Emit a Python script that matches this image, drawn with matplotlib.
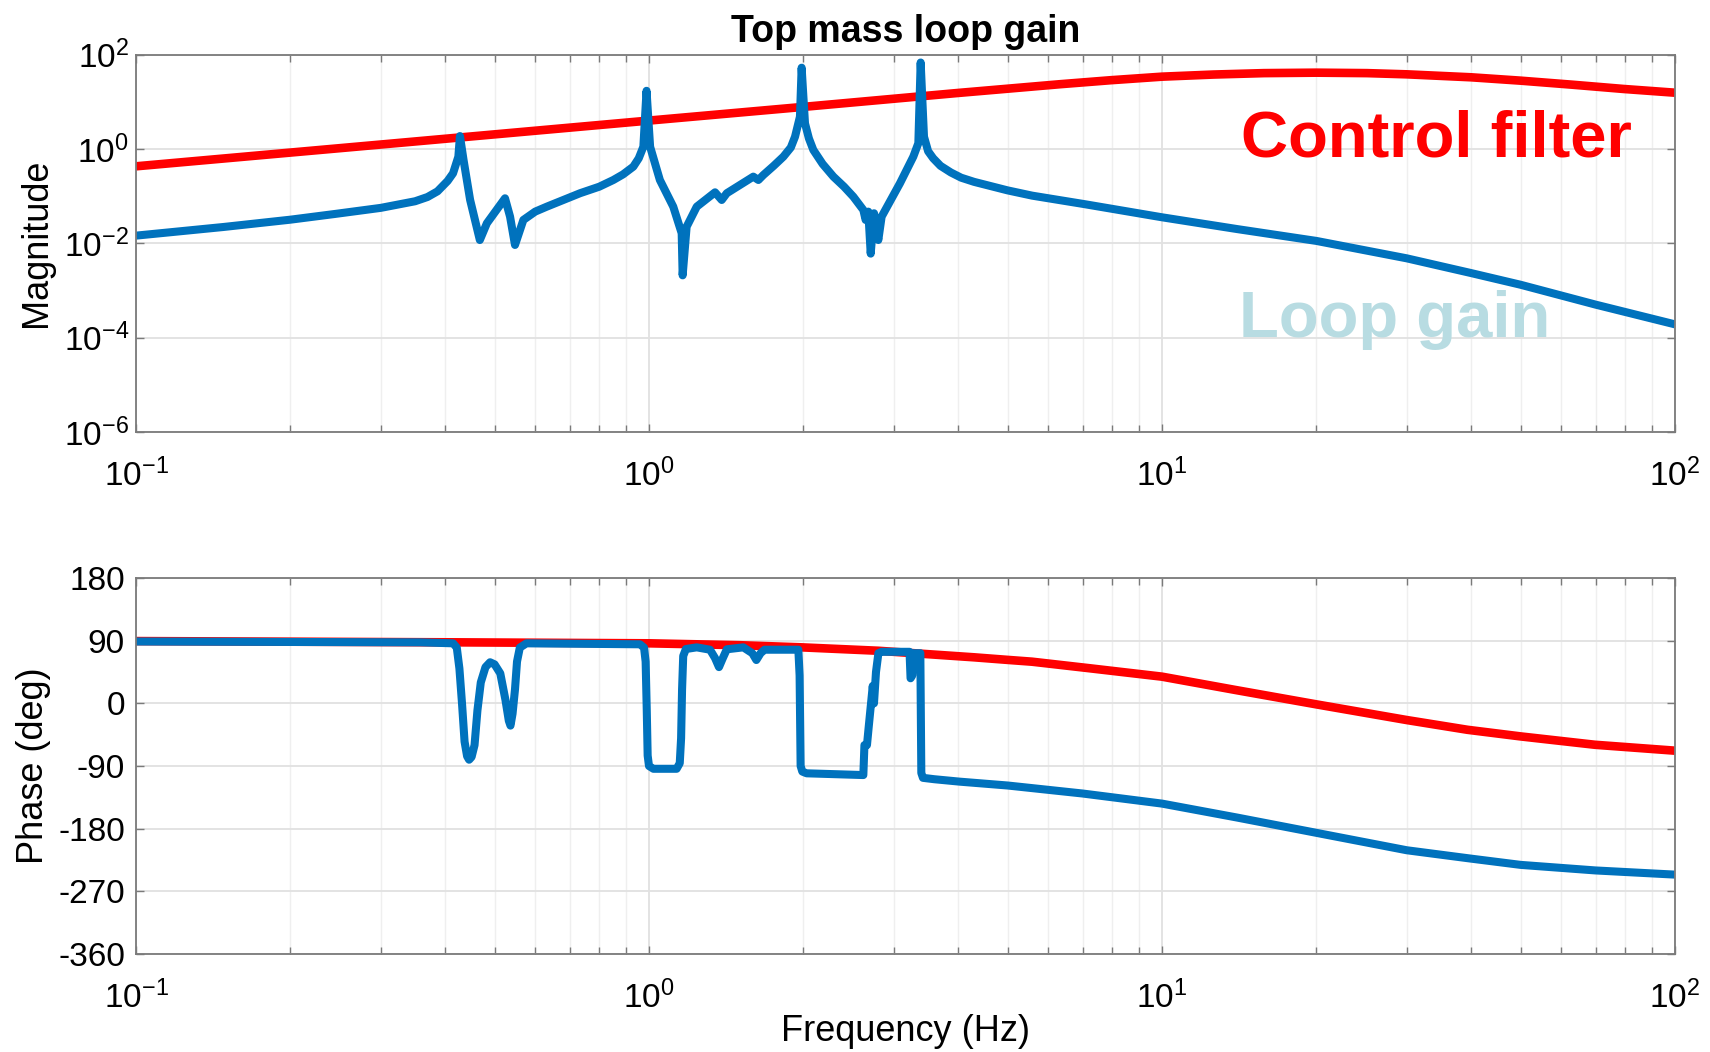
import matplotlib
matplotlib.use('Agg')
import matplotlib.pyplot as plt
from matplotlib.ticker import FixedLocator, LogLocator, NullLocator, NullFormatter

# ---------------- data ----------------
filter_mag_freq = [0.1, 0.316, 1.0, 2.0, 4.0, 6.31, 7.94, 10.0, 12.6, 15.8, 20.0,
                   25.1, 30.0, 40.0, 50.0, 63.1, 79.4, 100.0]
filter_mag = [0.427, 1.30, 3.98, 7.76, 15.3, 23.4, 28.5, 33.9, 37.6, 40.3, 41.2,
              40.3, 38.0, 32.9, 27.9, 22.9, 18.6, 15.5]

filter_phase_freq = [0.1, 0.42, 1.0, 1.5, 1.97, 2.8, 3.31, 4.3, 5.0, 5.58, 7.24, 10.0,
                     13.9, 20.0, 30.0, 39.4, 50.0, 69.8, 100.0]
filter_phase = [89.4, 87.6, 86.2, 83.5, 80.5, 75.5, 71.8, 66.1, 62.4, 59.8, 50.3, 38.3,
                19.2, -1.5, -24.0, -38.0, -47.5, -59.5, -68.0]

loop_mag_freq = [0.1, 0.148, 0.2, 0.244, 0.3, 0.35, 0.37, 0.387, 0.405, 0.415, 0.425,
                 0.428, 0.435, 0.448, 0.468, 0.483, 0.524, 0.536, 0.548, 0.569, 0.60,
                 0.632, 0.734, 0.80, 0.852, 0.89, 0.932, 0.955, 0.975, 0.989, 1.005,
                 1.05, 1.115, 1.158, 1.163, 1.184, 1.239, 1.345, 1.386, 1.418, 1.597,
                 1.634, 1.671, 1.75, 1.828, 1.89, 1.926, 1.969, 1.984, 2.014, 2.05,
                 2.091, 2.18, 2.288, 2.40, 2.502, 2.617, 2.644, 2.676, 2.705, 2.746,
                 2.799, 2.841, 3.085, 3.275, 3.35, 3.385, 3.436, 3.50, 3.581, 3.70,
                 3.877, 4.06, 4.302, 5.0, 5.585, 7.05, 10.0, 14.0, 20.0, 30.0,
                 40.0, 50.0, 70.0, 100.0]
loop_mag = [0.0145, 0.0221, 0.0316, 0.0417, 0.0562, 0.0776, 0.0955, 0.126, 0.209, 0.304, 0.684,
            1.87, 0.582, 0.0832, 0.0117, 0.0265, 0.0897, 0.0366, 0.0092, 0.0312, 0.0468,
            0.0596, 0.115, 0.158, 0.219, 0.288, 0.420, 0.631, 1.11, 17.0, 1.11,
            0.219, 0.0596, 0.0163, 0.00209, 0.0224, 0.0596, 0.120, 0.0826, 0.115, 0.258,
            0.219, 0.280, 0.437, 0.684, 1.07, 1.81, 4.81, 52.5, 3.48, 1.66,
            0.948, 0.479, 0.258, 0.158, 0.097, 0.0508, 0.0312, 0.0468, 0.00603, 0.0432,
            0.0117, 0.0366, 0.187, 0.684, 1.32, 67.6, 1.81, 0.891, 0.631, 0.437,
            0.316, 0.245, 0.200, 0.132, 0.102, 0.0676, 0.0355, 0.0200, 0.0112, 0.00479,
            0.00234, 0.00132, 0.000501, 0.000191]

loop_phase_freq = [0.1, 0.358, 0.415, 0.422, 0.427, 0.432, 0.437, 0.442, 0.446, 0.451,
                   0.457, 0.463, 0.470, 0.480, 0.490, 0.500, 0.513, 0.525, 0.533, 0.537,
                   0.542, 0.548, 0.553, 0.560, 0.577, 0.960, 0.978, 0.985, 0.990, 0.994,
                   1.000, 1.020, 1.132, 1.148, 1.155, 1.160, 1.166, 1.180, 1.239, 1.315,
                   1.345, 1.369, 1.393, 1.418, 1.527, 1.590, 1.619, 1.650, 1.680, 1.955,
                   1.966, 1.975, 1.990, 2.029, 2.617, 2.630, 2.660, 2.680, 2.730, 2.745,
                   2.770, 2.800, 2.840, 3.220, 3.235, 3.260, 3.280, 3.380, 3.395, 3.420,
                   3.600, 4.036, 5.0, 7.0, 10.0, 14.0, 20.0, 30.0, 40.0, 50.0,
                   70.0, 100.0]
loop_phase = [88.8, 87.6, 86.2, 80.0, 50.0, 0.0, -55.0, -76.0, -81.0, -77.0,
              -60.0, -10.0, 30.0, 52.0, 59.0, 56.0, 43.0, 5.0, -25.0, -32.0,
              -15.0, 20.0, 60.0, 80.0, 86.2, 84.8, 80.0, 60.0, -10.0, -75.0,
              -90.0, -94.0, -94.0, -86.0, -50.0, 20.0, 68.0, 78.0, 80.4, 77.0,
              65.0, 52.0, 65.0, 77.6, 80.4, 72.0, 62.2, 72.0, 77.0, 77.0,
              40.0, -90.0, -98.0, -100.5, -103.0, -60.0, -60.0, -35.0, 25.0, 0.0,
              45.0, 72.0, 74.0, 74.0, 36.0, 40.0, 72.0, 72.0, -100.0, -107.0,
              -109.0, -112.5, -118.0, -129.5, -144.0, -164.0, -186.0, -211.0, -223.0, -232.0,
              -240.0, -246.0]

mag_ticks = [1e-6, 1e-4, 1e-2, 1e0, 1e2]
mag_ticklabels = [r'$10^{-6}$', r'$10^{-4}$', r'$10^{-2}$', r'$10^{0}$', r'$10^{2}$']
phase_ticks = [-360, -270, -180, -90, 0, 90, 180]
phase_ticklabels = ['-360', '-270', '-180', '-90', '0', '90', '180']
freq_ticks = [0.1, 1, 10, 100]
freq_ticklabels = [r'$10^{-1}$', r'$10^{0}$', r'$10^{1}$', r'$10^{2}$']

title_text = 'Top mass loop gain'
xlabel_text = 'Frequency (Hz)'
mag_label = 'Magnitude'
phase_label = 'Phase (deg)'

# ---------------- styling ----------------
plt.rcParams['font.family'] = ['Liberation Sans', 'DejaVu Sans']
plt.rcParams['mathtext.fontset'] = 'custom'
plt.rcParams['mathtext.rm'] = 'Liberation Sans'
plt.rcParams['mathtext.default'] = 'regular'

RED = '#FF0000'
BLUE = '#0072BD'
SPINE = '#7a7a7a'
RED_LW = 6.2
BLUE_LW = 5.8

W, H = 1710, 1052
fig = plt.figure(figsize=(W / 100, H / 100), dpi=100)
ax1 = fig.add_axes([136 / W, 1 - 432 / H, (1675 - 136) / W, (432 - 54.5) / H])
ax2 = fig.add_axes([136 / W, 1 - 954 / H, (1675 - 136) / W, (954 - 578) / H])


def style(ax, ypad):
    ax.set_xscale('log')
    ax.set_xlim(0.1, 100)
    ax.xaxis.set_major_locator(FixedLocator(freq_ticks))
    ax.set_xticklabels(freq_ticklabels)
    ax.xaxis.set_minor_locator(LogLocator(base=10, subs=[2, 3, 4, 5, 6, 7, 8, 9]))
    ax.xaxis.set_minor_formatter(NullFormatter())
    ax.set_axisbelow(True)
    ax.grid(True, which='major', axis='both', color='#e1e1e1', lw=1.3)
    ax.grid(True, which='minor', axis='x', color='#efefef', lw=1.0)
    for s in ax.spines.values():
        s.set_color(SPINE)
        s.set_linewidth(1.3)
    ax.tick_params(which='both', direction='in', top=True, right=True,
                   color=SPINE, width=1.0)
    ax.tick_params(which='major', length=5.5)
    ax.tick_params(which='minor', length=5.0)
    ax.tick_params(axis='x', which='major', labelsize=24, pad=19)
    ax.tick_params(axis='y', which='major', labelsize=24, pad=ypad)


line_kw = dict(solid_joinstyle='round', solid_capstyle='butt')

# magnitude
ax1.plot(filter_mag_freq, filter_mag, color=RED, lw=RED_LW, **line_kw)
ax1.plot(loop_mag_freq, loop_mag, color=BLUE, lw=BLUE_LW, **line_kw)
ax1.set_yscale('log')
style(ax1, 5)
ax1.set_ylim(1e-6, 1e2)
ax1.yaxis.set_major_locator(FixedLocator(mag_ticks))
ax1.yaxis.set_minor_locator(NullLocator())
ax1.set_yticklabels(mag_ticklabels)
ax1.set_ylabel(mag_label, fontsize=26)
ax1.yaxis.set_label_coords(-0.053, 0.5)

# phase
ax2.plot(filter_phase_freq, filter_phase, color=RED, lw=RED_LW, **line_kw)
ax2.plot(loop_phase_freq, loop_phase, color=BLUE, lw=BLUE_LW, **line_kw)
style(ax2, 8)
ax2.set_ylim(-360, 180)
ax2.yaxis.set_major_locator(FixedLocator(phase_ticks))
ax2.set_yticklabels(phase_ticklabels)
ax2.set_ylabel(phase_label, fontsize=26)
ax2.yaxis.set_label_coords(-0.055, 0.5)
ax2.set_xlabel(xlabel_text, fontsize=26)
ax2.xaxis.set_label_coords(0.5, -0.16)

# annotations
fig.text(905.5 / W, 1 - 41.7 / H, title_text, ha='center', va='baseline',
         fontsize=27, fontweight='bold')
fig.text(1241 / W, 1 - 156.7 / H, 'Control filter', ha='left', va='baseline',
         fontsize=47, fontweight='bold', color=RED)
fig.text(1239 / W, 1 - 336.7 / H, 'Loop gain', ha='left', va='baseline',
         fontsize=47, fontweight='bold', color='#B8DCE2')

fig.savefig('out.png', dpi=100)
